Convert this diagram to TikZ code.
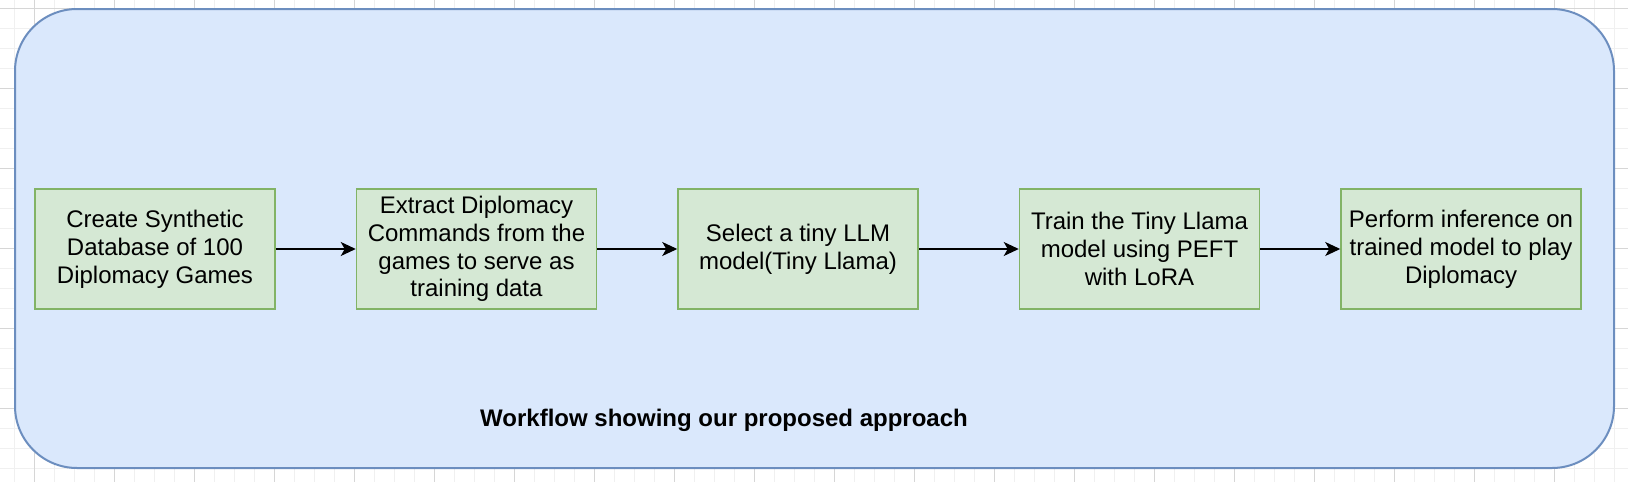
\documentclass[tikz,border=0pt]{standalone}
\usepackage{fontspec}
\setmainfont{Liberation Sans}
\usetikzlibrary{positioning,arrows.meta}

\definecolor{panelfill}{HTML}{DAE8FC}
\definecolor{panelline}{HTML}{6C8EBF}
\definecolor{stepfill}{HTML}{D5E8D4}
\definecolor{stepline}{HTML}{82B366}
\definecolor{gridminor}{HTML}{F0F0F0}
\definecolor{gridmajor}{HTML}{D6D6D6}

\tikzset{
  stepbox/.style={draw=stepline, fill=stepfill, line width=1.5pt,
    minimum width=240pt, minimum height=120pt, inner sep=0pt,
    align=center, font=\fontsize{24}{27.8}\selectfont},
  flow/.style={-{Stealth[length=15pt,width=14pt,inset=4pt]}, line width=1.5pt},
  caption/.style={font=\fontsize{24}{28}\selectfont\bfseries}
}

\begin{document}
\begin{tikzpicture}[x=1pt,y=-1pt]
	\useasboundingbox (0,0) rectangle (1628,482);
	% background grid
	\foreach \gx in {14.5,34.5,...,1628} \draw[gridminor, line width=1pt] (\gx,0) -- (\gx,482);
	\foreach \gy in {8,28,...,482} \draw[gridminor, line width=1pt] (0,\gy) -- (1628,\gy);
	\foreach \gx in {34.5,114.5,...,1628} \draw[gridmajor, line width=1pt] (\gx,0) -- (\gx,482);
	\foreach \gy in {8,88,...,482} \draw[gridmajor, line width=1pt] (0,\gy) -- (1628,\gy);

	% panel
	\draw[panelline, fill=panelfill, line width=2pt, rounded corners=62pt] (15,9) rectangle (1614,468);

	% steps
	\node[stepbox] (synth) at (155,249) {Create Synthetic\\Database of 100\\Diplomacy Games};
	\node[stepbox, right=80pt of synth] (extract) {Extract Diplomacy\\Commands from the\\games to serve as\\training data};
	\node[stepbox, right=80pt of extract] (select) {Select a tiny LLM\\model(Tiny Llama)};
	\node[stepbox, right=100pt of select] (train) {Train the Tiny Llama\\model using PEFT\\with LoRA};
	\node[stepbox, right=80pt of train] (infer) {Perform inference on\\trained model to play\\Diplomacy};

	\draw[flow] (synth) -- (extract);
	\draw[flow] (extract) -- (select);
	\draw[flow] (select) -- (train);
	\draw[flow] (train) -- (infer);

	\node[caption] (title) at (724,420) {Workflow showing our proposed approach};
\end{tikzpicture}
\end{document}
